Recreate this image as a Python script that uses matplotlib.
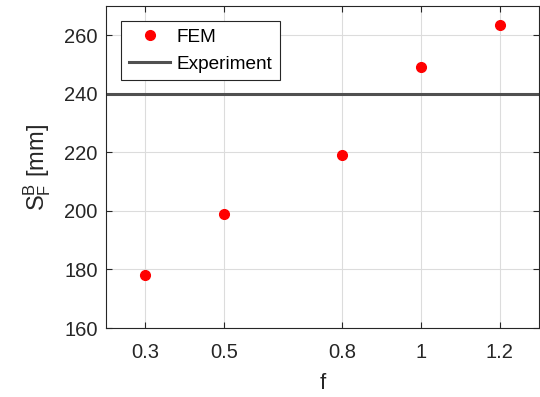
import matplotlib
matplotlib.use("Agg")
import matplotlib.pyplot as plt

plt.rcParams['font.family'] = ['Liberation Sans', 'DejaVu Sans']
plt.rcParams['mathtext.fontset'] = 'custom'
plt.rcParams['mathtext.rm'] = 'Liberation Sans'
plt.rcParams['mathtext.it'] = 'Liberation Sans'

f_vals = [0.3, 0.5, 0.8, 1.0, 1.2]
fem_vals = [178, 199, 219, 249, 263.5]
experiment = 240
xtick_labels = ['0.3', '0.5', '0.8', '1', '1.2']
yticks = [160, 180, 200, 220, 240, 260]

fig = plt.figure(figsize=(5.4, 3.97), dpi=100)
ax = fig.add_axes([106/540, 1 - 328/397, (539-106)/540, (328-6)/397])

ax.plot(f_vals, fem_vals, 'o', color='red', markersize=7, label='FEM', zorder=3)
ax.axhline(experiment, color='#505050', linewidth=2.2, label='Experiment', zorder=2)

ax.set_xlim(0.2, 1.3)
ax.set_ylim(160, 270)
ax.set_xticks(f_vals)
ax.set_xticklabels(xtick_labels)
ax.set_yticks(yticks)
ax.grid(True, color='#dcdcdc', linewidth=0.8)
ax.set_axisbelow(True)
ax.tick_params(direction='in', top=True, right=True, labelsize=14.5,
               colors='#262626', length=4)
ax.tick_params(axis='x', pad=11)
ax.tick_params(axis='y', pad=6)
for s in ax.spines.values():
    s.set_color('#262626')
    s.set_linewidth(0.8)

ax.set_xlabel('f', fontsize=16, color='#262626', labelpad=8)
ax.set_ylabel(r'$\mathrm{S}_\mathrm{F}^\mathrm{B}$ [mm]', fontsize=17, color='#262626', labelpad=8)

leg = ax.legend(loc='upper left', bbox_to_anchor=(15/433, 1 - 15/322), fontsize=13.7,
                fancybox=False, framealpha=1, edgecolor='#262626',
                handlelength=2.2, handletextpad=0.3, borderpad=0.4,
                labelspacing=0.5, borderaxespad=0)
leg.get_frame().set_linewidth(0.8)

fig.savefig('out.png', dpi=100)
